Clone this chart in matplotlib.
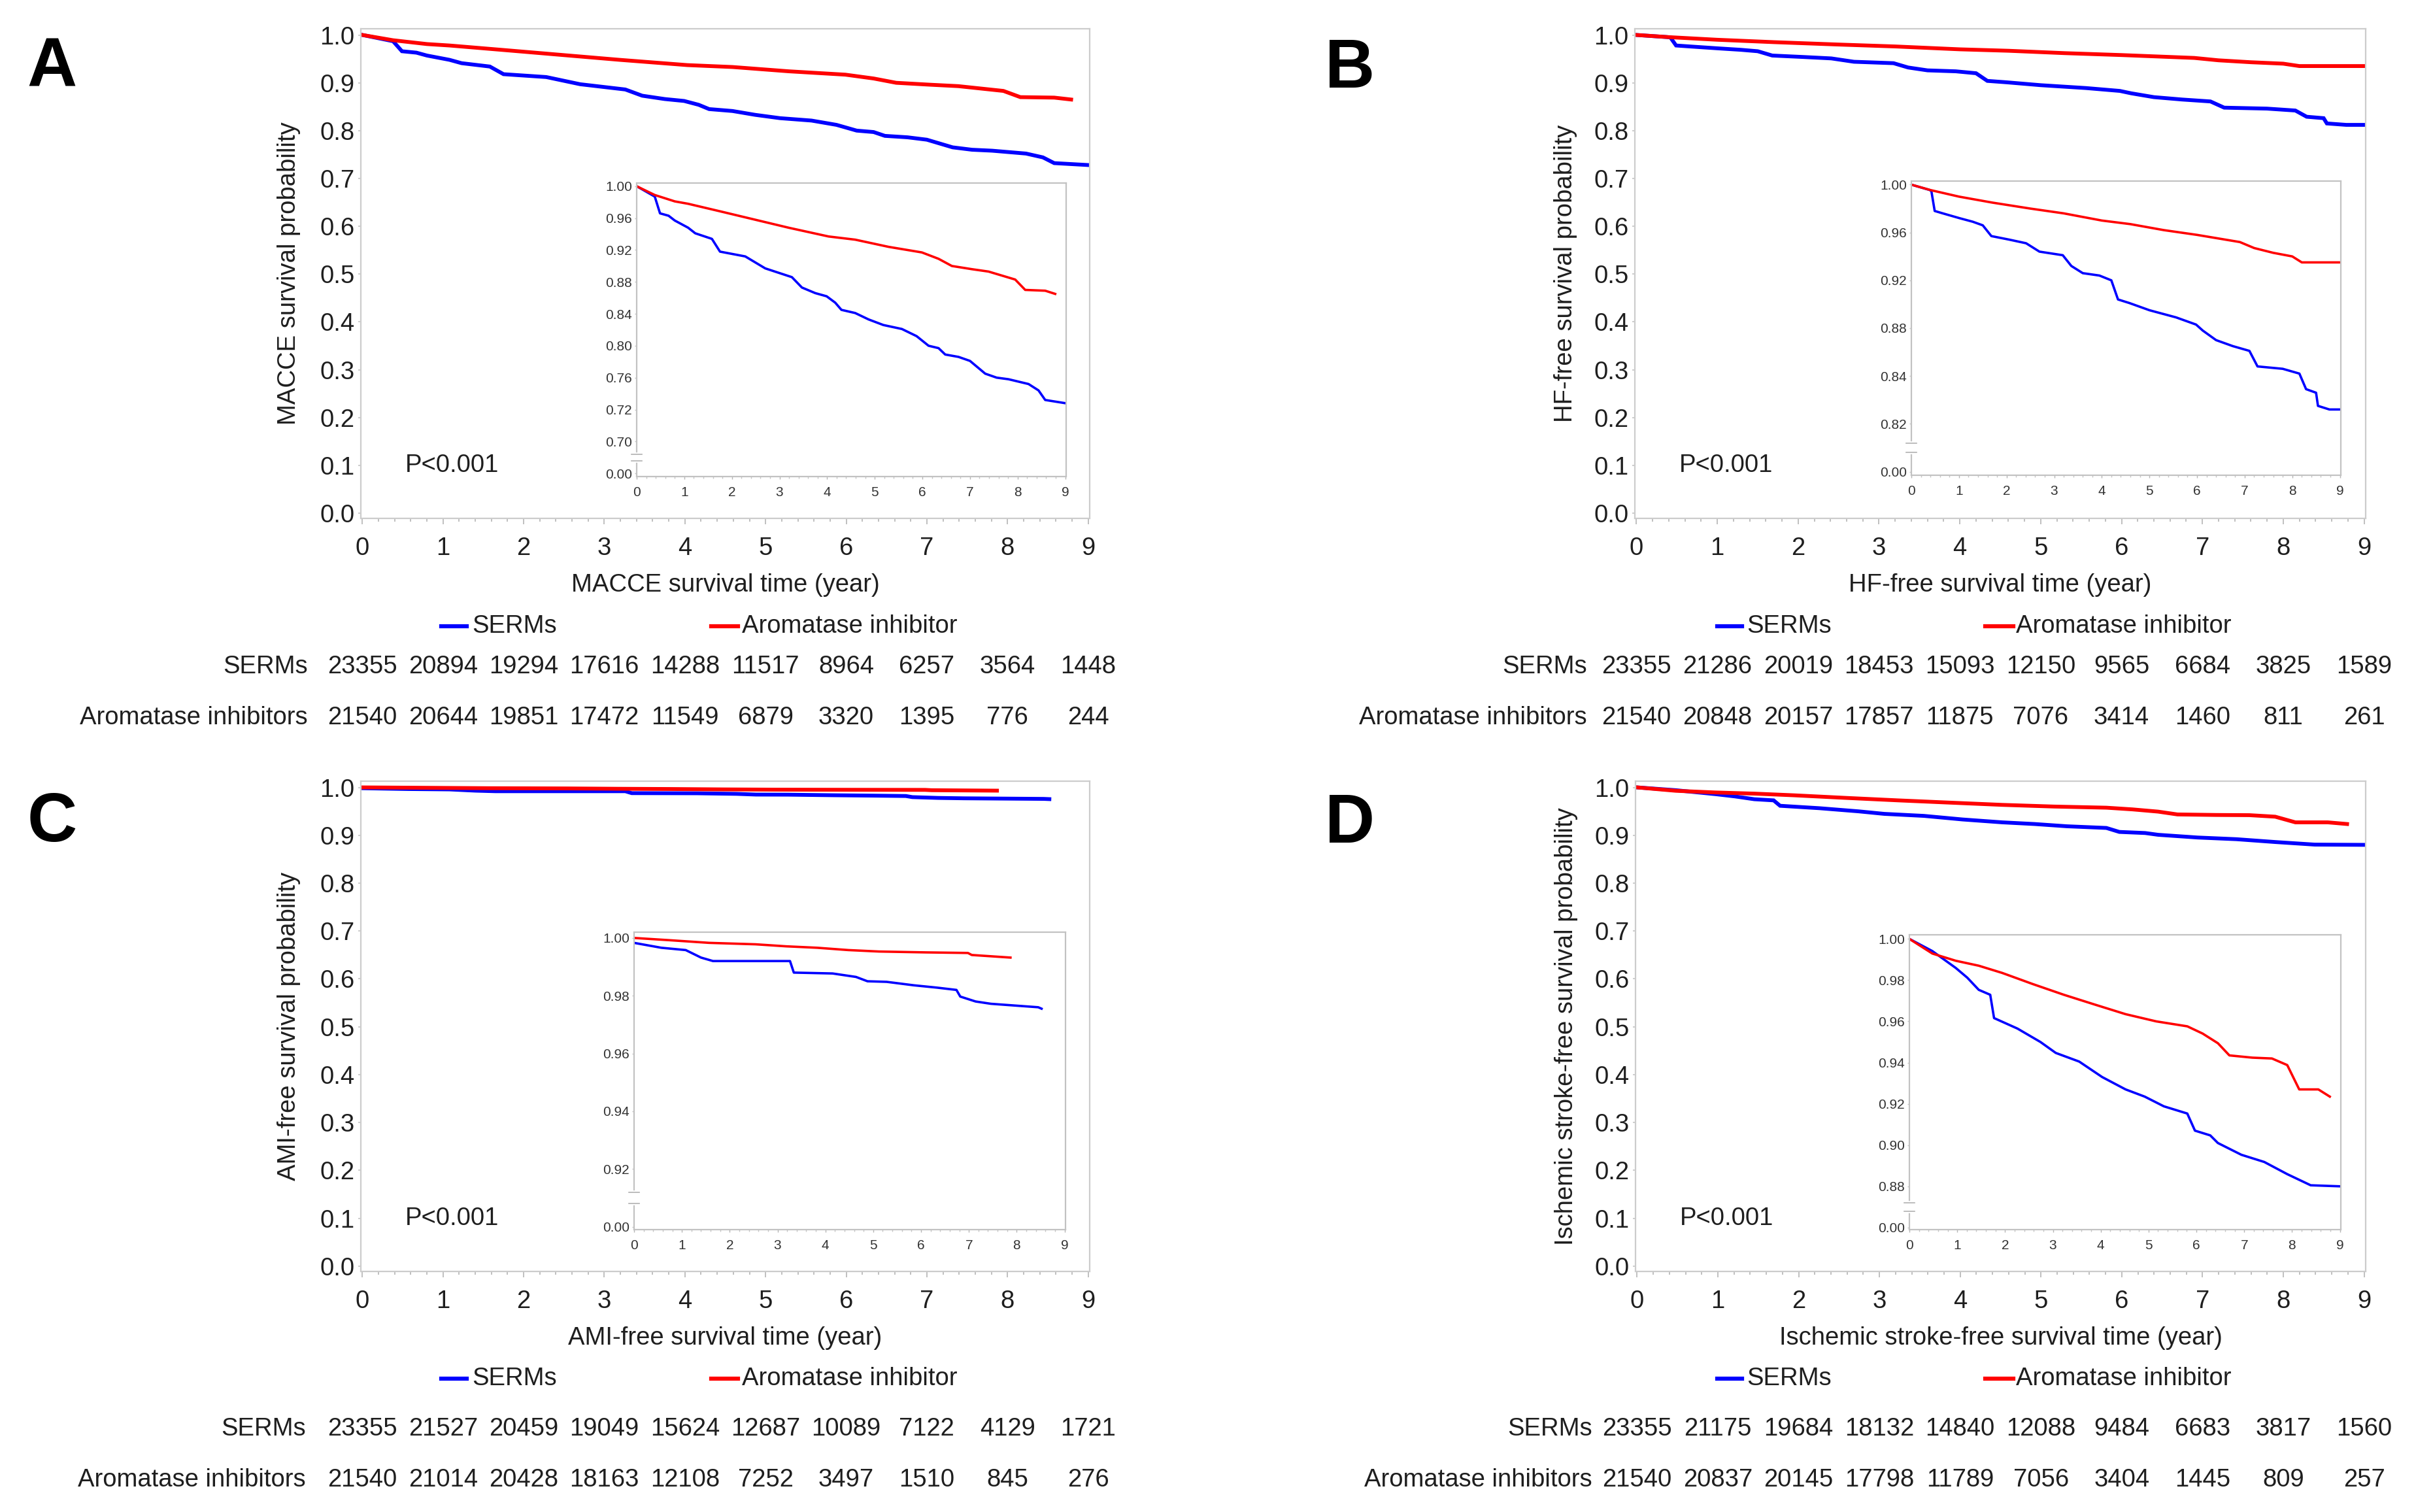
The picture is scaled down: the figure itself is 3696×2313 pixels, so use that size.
import matplotlib.pyplot as plt
import matplotlib.transforms as mtransforms
from matplotlib.lines import Line2D

plt.rcParams['font.family'] = ['Liberation Sans', 'DejaVu Sans']

W, H = 3696, 2313

# ---- curve data (years, survival) ----
macce_serm_t = [0, 0.38, 0.49, 0.67, 0.8, 1.08, 1.23, 1.58, 1.75, 2.28, 2.7, 3.26, 3.47, 3.75, 3.99,
                4.17, 4.3, 4.59, 4.87, 5.18, 5.57, 5.88, 6.13, 6.34, 6.48, 6.76, 7.0, 7.32, 7.56,
                7.81, 8.23, 8.44, 8.58, 9.0]
macce_serm_s = [1.0, 0.987, 0.966, 0.963, 0.957, 0.948, 0.941, 0.934, 0.918, 0.912, 0.897, 0.886,
                0.873, 0.866, 0.862, 0.854, 0.845, 0.841, 0.833, 0.826, 0.821, 0.812, 0.800, 0.797,
                0.789, 0.786, 0.781, 0.765, 0.760, 0.758, 0.752, 0.744, 0.732, 0.728]
macce_ai_t = [0, 0.38, 0.8, 1.08, 1.79, 2.49, 3.19, 4.03, 4.59, 5.29, 5.99, 6.34, 6.62, 7.04, 7.39,
              7.95, 8.16, 8.58, 8.79]
macce_ai_s = [1.0, 0.989, 0.981, 0.978, 0.968, 0.958, 0.948, 0.937, 0.933, 0.924, 0.917, 0.909,
              0.900, 0.896, 0.893, 0.883, 0.870, 0.869, 0.865]

hf_serm_t = [0, 0.38, 0.42, 0.49, 0.66, 1.01, 1.29, 1.5, 1.68, 2.06, 2.41, 2.69, 3.18, 3.36, 3.6,
             3.95, 4.2, 4.34, 4.58, 5.0, 5.56, 5.98, 6.12, 6.4, 6.75, 7.1, 7.27, 7.8, 8.15, 8.29,
             8.5, 8.54, 8.78, 9.0]
hf_serm_s = [1.0, 0.9956, 0.9947, 0.978, 0.976, 0.972, 0.969, 0.966, 0.957, 0.954, 0.951, 0.944,
             0.941, 0.932, 0.926, 0.924, 0.920, 0.904, 0.901, 0.895, 0.889, 0.883, 0.878, 0.870,
             0.865, 0.861, 0.848, 0.846, 0.842, 0.829, 0.826, 0.815, 0.812, 0.812]
hf_ai_t = [0, 0.4, 1.0, 1.7, 2.5, 3.2, 4.0, 4.6, 5.3, 6.0, 6.6, 6.9, 7.2, 7.6, 8.0, 8.2, 9.0]
hf_ai_s = [1.0, 0.9955, 0.990, 0.985, 0.980, 0.976, 0.970, 0.967, 0.962, 0.958, 0.954, 0.952,
           0.947, 0.943, 0.940, 0.935, 0.935]

ami_serm_t = [0, 0.57, 1.08, 1.4, 1.65, 3.26, 3.34, 4.15, 4.64, 4.88, 5.28, 5.85, 6.33, 6.74,
              6.82, 7.14, 7.46, 8.45, 8.52]
ami_serm_s = [0.9983, 0.9966, 0.9958, 0.9932, 0.992, 0.992, 0.988, 0.9877, 0.9865, 0.985, 0.9848,
              0.9836, 0.9828, 0.982, 0.9797, 0.978, 0.9772, 0.976, 0.9755]
ami_ai_t = [0, 0.76, 1.57, 2.54, 3.18, 3.83, 4.48, 5.12, 6.09, 6.98, 7.06, 7.87]
ami_ai_s = [1.0, 0.9992, 0.9983, 0.9978, 0.9971, 0.9966, 0.9958, 0.9953, 0.995, 0.9948, 0.9941,
            0.9932]

isch_serm_t = [0, 0.48, 0.97, 1.21, 1.45, 1.69, 1.77, 2.26, 2.74, 3.06, 3.55, 4.03, 4.52, 4.92,
               5.32, 5.81, 5.97, 6.29, 6.45, 6.94, 7.42, 7.9, 8.39, 9.0]
isch_serm_s = [1.0, 0.9941, 0.9859, 0.9812, 0.9753, 0.9729, 0.9616, 0.9565, 0.95, 0.9447, 0.9405,
               0.933, 0.927, 0.9235, 0.9188, 0.9153, 0.907, 0.9047, 0.901, 0.8953, 0.8918, 0.8859,
               0.8805, 0.880]
isch_ai_t = [0, 0.48, 0.97, 1.45, 1.94, 2.58, 3.23, 3.87, 4.52, 5.16, 5.81, 6.13, 6.45, 6.69, 7.17,
             7.58, 7.9, 8.15, 8.55, 8.79]
isch_ai_s = [1.0, 0.9929, 0.9894, 0.987, 0.9835, 0.9781, 0.9729, 0.9682, 0.9635, 0.96, 0.9576,
             0.9541, 0.9494, 0.9435, 0.9424, 0.942, 0.9388, 0.927, 0.927, 0.9235]

# ---- numbers at risk ----
risk_years = [0, 1, 2, 3, 4, 5, 6, 7, 8, 9]
macce_serm_n = [23355, 20894, 19294, 17616, 14288, 11517, 8964, 6257, 3564, 1448]
macce_ai_n = [21540, 20644, 19851, 17472, 11549, 6879, 3320, 1395, 776, 244]
hf_serm_n = [23355, 21286, 20019, 18453, 15093, 12150, 9565, 6684, 3825, 1589]
hf_ai_n = [21540, 20848, 20157, 17857, 11875, 7076, 3414, 1460, 811, 261]
ami_serm_n = [23355, 21527, 20459, 19049, 15624, 12687, 10089, 7122, 4129, 1721]
ami_ai_n = [21540, 21014, 20428, 18163, 12108, 7252, 3497, 1510, 845, 276]
isch_serm_n = [23355, 21175, 19684, 18132, 14840, 12088, 9484, 6683, 3817, 1560]
isch_ai_n = [21540, 20837, 20145, 17798, 11789, 7056, 3404, 1445, 809, 257]

# ---- inset y ticks (positions and printed labels) ----
macce_inset_ticks = [1.00, 0.96, 0.92, 0.88, 0.84, 0.80, 0.76, 0.72, 0.68, 0.64]
macce_inset_labels = ['1.00', '0.96', '0.92', '0.88', '0.84', '0.80', '0.76', '0.72', '0.70', '0.00']
hf_inset_ticks = [1.00, 0.96, 0.92, 0.88, 0.84, 0.80, 0.76]
hf_inset_labels = ['1.00', '0.96', '0.92', '0.88', '0.84', '0.82', '0.00']
ami_inset_ticks = [1.00, 0.98, 0.96, 0.94, 0.92, 0.90]
ami_inset_labels = ['1.00', '0.98', '0.96', '0.94', '0.92', '0.00']
isch_inset_ticks = [1.00, 0.98, 0.96, 0.94, 0.92, 0.90, 0.88, 0.86]
isch_inset_labels = ['1.00', '0.98', '0.96', '0.94', '0.92', '0.90', '0.88', '0.00']

BLUE = '#0000ff'
RED = '#ff0000'
TXT = '#1e1e1e'
SPINE = '#cccccc'
FS = 27.5


def rect(l, t, r, b):
    return [l / W, 1 - b / H, (r - l) / W, (b - t) / H]


def draw_panel(fig, letter, letter_xy, main_box, inset_box, ylabel, xlabel,
               serm, ai, inset_ylim, inset_ticks, inset_labels,
               serm_n, ai_n, rows_y, row_label_x, legend_x, ylabel_off):
    ax = fig.add_axes(rect(*main_box))
    ax.plot(serm[0], serm[1], color=BLUE, lw=4.2, solid_joinstyle='miter')
    ax.plot(ai[0], ai[1], color=RED, lw=4.2, solid_joinstyle='miter')
    ax.set_xlim(-0.02, 9.02)
    ax.set_ylim(-0.011, 1.013)
    ax.set_xticks(range(10))
    ax.set_xticks([i * 0.2 for i in range(46)], minor=True)
    ax.set_yticks([i / 10 for i in range(11)])
    ax.set_yticklabels(['%.1f' % (i / 10) for i in range(11)])
    ax.tick_params(axis='x', which='major', length=6.5, width=1.2, color='#b5b5b5',
                   pad=14, labelsize=FS, labelcolor=TXT)
    ax.tick_params(axis='x', which='minor', length=3.5, width=1.2, color='#b5b5b5')
    ax.tick_params(axis='y', length=3, width=1.2, color='#c5c5c5', pad=4,
                   labelsize=FS, labelcolor=TXT)
    for s in ax.spines.values():
        s.set_color(SPINE)
        s.set_linewidth(1.6)
    ax.text(0.53, 0.1, 'P<0.001', fontsize=FS, color=TXT, ha='left', va='center')
    ax.text(ylabel_off, 0.5, ylabel, transform=ax.transAxes, rotation=90, fontsize=FS,
            color=TXT, ha='center', va='center')
    axh = main_box[3] - main_box[1]
    xl_y, leg_y, r1_y, r2_y = rows_y
    ax.text(0.5, (main_box[3] - xl_y) / axh, xlabel, transform=ax.transAxes,
            fontsize=FS, color=TXT, ha='center', va='center')

    # legend
    for (x0, x1, tx), col, lab in zip(legend_x, [BLUE, RED], ['SERMs', 'Aromatase inhibitor']):
        fig.add_artist(Line2D([x0 / W, x1 / W], [1 - leg_y / H, 1 - leg_y / H],
                              color=col, lw=4.5, transform=fig.transFigure))
        fig.text(tx / W, 1 - leg_y / H, lab, fontsize=FS, color=TXT, ha='left', va='center')

    # numbers at risk
    tr = mtransforms.blended_transform_factory(ax.transData, fig.transFigure)
    fig.text(row_label_x / W, 1 - r1_y / H, 'SERMs', fontsize=FS, color=TXT,
             ha='right', va='center')
    fig.text(row_label_x / W, 1 - r2_y / H, 'Aromatase inhibitors', fontsize=FS, color=TXT,
             ha='right', va='center')
    for yr, a, b in zip(risk_years, serm_n, ai_n):
        ax.text(yr, 1 - r1_y / H, str(a), transform=tr, fontsize=FS, color=TXT,
                ha='center', va='center')
        ax.text(yr, 1 - r2_y / H, str(b), transform=tr, fontsize=FS, color=TXT,
                ha='center', va='center')

    fig.text(letter_xy[0] / W, 1 - letter_xy[1] / H, letter, fontsize=76,
             fontweight='bold', color='black', ha='center', va='center')

    # inset
    ins = fig.add_axes(rect(*inset_box))
    ins.plot(serm[0], serm[1], color=BLUE, lw=2.6)
    ins.plot(ai[0], ai[1], color=RED, lw=2.6)
    ins.set_xlim(0, 9.02)
    ins.set_ylim(*inset_ylim)
    ins.set_xticks(range(10))
    ins.set_xticks([i * 0.2 for i in range(46)], minor=True)
    ins.set_yticks(inset_ticks)
    ins.set_yticklabels(inset_labels)
    ins.tick_params(axis='x', which='major', length=3, width=1, color='#b5b5b5', pad=8,
                    labelsize=15, labelcolor='#333333')
    ins.tick_params(axis='x', which='minor', length=2, width=1, color='#c5c5c5')
    ins.tick_params(axis='y', length=2, width=1, color='#c5c5c5', pad=3,
                    labelsize=15, labelcolor='#333333')
    for s in ins.spines.values():
        s.set_color('#c2c2c2')
        s.set_linewidth(1.6)
    # axis break between the last two ticks
    g = (inset_ticks[-1] + inset_ticks[-2]) / 2
    d = (inset_ticks[-2] - inset_ticks[-1]) * 0.1
    yt = ins.get_yaxis_transform()
    ins.plot([0, 0], [g - d, g + d], transform=yt, color='white', lw=4, clip_on=False, zorder=5)
    for yy in (g - d, g + d):
        ins.plot([-0.012, 0.012], [yy, yy], transform=yt, color='#b0b0b0', lw=1.2,
                 clip_on=False, zorder=6)
    return ax


def main():
    fig = plt.figure(figsize=(W / 100, H / 100), dpi=100)

    top_rows = (895, 958, 1020, 1098)
    bot_rows = (2047, 2109, 2186, 2264)
    leg_left = [(675, 714, 722), (1088, 1129, 1135)]
    leg_right = [(2627, 2665, 2672), (3037, 3080, 3084)]

    draw_panel(fig, 'A', (80, 105), (552, 44, 1667, 793), (974, 280, 1631, 729),
               'MACCE survival probability', 'MACCE survival time (year)',
               (macce_serm_t, macce_serm_s), (macce_ai_t, macce_ai_s),
               (0.636, 1.004), macce_inset_ticks, macce_inset_labels,
               macce_serm_n, macce_ai_n, top_rows, 471, leg_left, -0.099)
    draw_panel(fig, 'B', (2065, 107), (2501, 44, 3619, 793), (2924, 277, 3581, 727),
               'HF-free survival probability', 'HF-free survival time (year)',
               (hf_serm_t, hf_serm_s), (hf_ai_t, hf_ai_s),
               (0.757, 1.003), hf_inset_ticks, hf_inset_labels,
               hf_serm_n, hf_ai_n, top_rows, 2428, leg_right, -0.095)
    draw_panel(fig, 'C', (80, 1260), (552, 1195, 1667, 1945), (970, 1426, 1630, 1881),
               'AMI-free survival probability', 'AMI-free survival time (year)',
               (ami_serm_t, ami_serm_s), (ami_ai_t, ami_ai_s),
               (0.899, 1.002), ami_inset_ticks, ami_inset_labels,
               ami_serm_n, ami_ai_n, bot_rows, 468, leg_left, -0.099)
    draw_panel(fig, 'D', (2065, 1262), (2502, 1195, 3619, 1945), (2921, 1430, 3581, 1881),
               'Ischemic stroke-free survival probability',
               'Ischemic stroke-free survival time (year)',
               (isch_serm_t, isch_serm_s), (isch_ai_t, isch_ai_s),
               (0.859, 1.002), isch_inset_ticks, isch_inset_labels,
               isch_serm_n, isch_ai_n, bot_rows, 2436, leg_right, -0.095)

    fig.savefig('out.png', dpi=100, facecolor='white')


if __name__ == "__main__":
    main()
